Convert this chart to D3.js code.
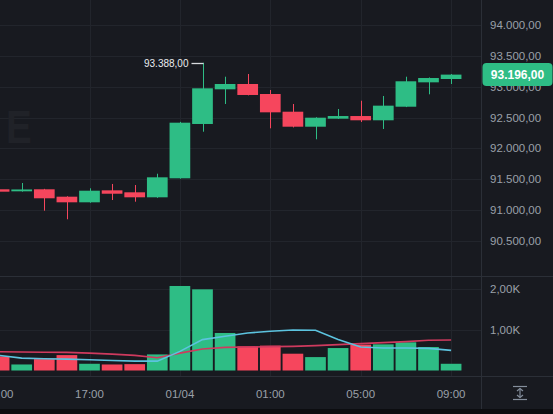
<!DOCTYPE html>
<html><head><meta charset="utf-8">
<script src="https://cdn.jsdelivr.net/npm/d3@7/dist/d3.min.js"></script>
<style>html,body{margin:0;padding:0;background:#181a20;overflow:hidden}</style>
</head><body><svg id="c" width="553" height="414"></svg>
<script>
// ---- data ----
const times = ["13:00","14:00","15:00","16:00","17:00","18:00","19:00","20:00","21:00","22:00","23:00",
               "00:00","01:00","02:00","03:00","04:00","05:00","06:00","07:00","08:00","09:00"];
const open  = [91338,91305,91338,91218,91127,91321,91289,91208,91516,92396,92958,93044,92882,92595,92352,92482,92525,92456,92676,93071,93125];
const high  = [91345,91440,91345,91225,91354,91424,91407,91590,92430,93388,93162,93206,92947,92720,92505,92639,92773,92850,93162,93150,93205];
const low   = [91295,91300,90991,90852,91120,91164,91137,91200,91510,92271,92720,92860,92326,92340,92148,92478,92428,92315,92670,92877,93044];
const close = [91299,91335,91192,91127,91315,91266,91208,91532,92417,92974,93044,92866,92585,92352,92498,92525,92456,92693,93088,93141,93196];
const volume = [346,148,279,378,165,148,156,395,2074,1992,921,593,610,412,329,551,634,642,691,576,165];
const volMaFast = [370,304,289,279,264,247,230,230,469,758,840,921,963,995,988,758,575,551,551,543,494];
const volMaSlow = [462,454,449,444,427,402,370,314,427,526,568,575,585,593,610,635,659,684,709,741,748];
const priceTicks = [90500,91000,91500,92000,92500,93000,93500,94000];
const volTicks = [1000,2000];
const tickTimes  = ["13:00","17:00","21:00","01:00","05:00","09:00"];
const tickLabels = ["13:00","17:00","01/04","01:00","05:00","09:00"];
const lastPrice = 93196;
const maxPrice = 93388;
const watermark = "E";

// ---- styles ----
const BG = "#181a20", GRID = "#22252c", SEP = "#2b2f37", TXT = "#9aa0a9";
const UP = "#2ebd85", DOWN = "#f6465d";
const FAST = "#5cc3df", SLOW = "#cf3a5e";
const FONT = "'Liberation Sans', Arial, sans-serif";

const svg = d3.select("#c");
const W = 553, H = 414, plotR = 481.5;
const loc = d3.formatLocale({decimal:",", thousands:".", grouping:[3], currency:["",""]});
const fmtP = loc.format(",.2f");
const fmtV = v => loc.format(".2f")(v/1000) + "K";

svg.append("rect").attr("width",W).attr("height",H).attr("fill",BG);
svg.append("rect").attr("x",0).attr("y",409).attr("width",W).attr("height",5).attr("fill","#0c0d10");

const x = d3.scaleBand().domain(times).range([-12.2, -12.2 + 22.6*times.length])
  .paddingInner(0.084).paddingOuter(0.042);
const cx = t => x(t) + x.bandwidth()/2;
const y = d3.scaleLinear().domain([90500, 94000]).range([241, 25]);
const yv = d3.scaleLinear().domain([0, 2000]).range([370.5, 289]);

svg.append("clipPath").attr("id","clip").append("rect").attr("x",0).attr("y",0).attr("width",plotR).attr("height",409);
const g = svg.append("g").attr("clip-path","url(#clip)");

// grid
g.selectAll(".hg").data(priceTicks).join("line")
  .attr("x1",0).attr("x2",plotR).attr("y1",d=>Math.round(y(d))+0.5).attr("y2",d=>Math.round(y(d))+0.5)
  .attr("stroke",GRID).attr("stroke-width",1);
g.selectAll(".vhg").data(volTicks).join("line")
  .attr("x1",0).attr("x2",plotR).attr("y1",d=>Math.round(yv(d))+0.5).attr("y2",d=>Math.round(yv(d))+0.5)
  .attr("stroke",GRID).attr("stroke-width",1);
g.selectAll(".vg").data(tickTimes).join("line")
  .attr("x1",d=>Math.round(cx(d))+0.5).attr("x2",d=>Math.round(cx(d))+0.5).attr("y1",0).attr("y2",377)
  .attr("stroke",GRID).attr("stroke-width",1);

// watermark
g.append("text").attr("x",6).attr("y",143).attr("fill","#202228")
  .attr("font-family",FONT).attr("font-weight","bold").attr("font-size",47)
  .attr("transform","translate(6,0) scale(0.82,1) translate(-6,0)").text(watermark);

// candles
const idx = d3.range(times.length);
g.selectAll(".wick").data(idx).join("line")
  .attr("x1",i=>Math.round(cx(times[i]))+0.5).attr("x2",i=>Math.round(cx(times[i]))+0.5)
  .attr("y1",i=>y(high[i])).attr("y2",i=>y(low[i]))
  .attr("stroke",i=>close[i]>=open[i]?UP:DOWN).attr("stroke-width",1);
g.selectAll(".body").data(idx).join("rect")
  .attr("x",i=>x(times[i])).attr("width",x.bandwidth())
  .attr("y",i=>y(Math.max(open[i],close[i])))
  .attr("height",i=>Math.max(1.5, Math.abs(y(open[i])-y(close[i]))))
  .attr("fill",i=>close[i]>=open[i]?UP:DOWN);

// volume bars
g.selectAll(".vol").data(idx).join("rect")
  .attr("x",i=>x(times[i])).attr("width",x.bandwidth())
  .attr("y",i=>yv(volume[i])).attr("height",i=>yv(0)-yv(volume[i]))
  .attr("fill",i=>close[i]>=open[i]?UP:DOWN);

// volume MAs
const line = arr => d3.line().x((d,i)=>cx(times[i])).y(d=>yv(d)).curve(d3.curveLinear)(arr);
g.append("path").attr("d",line(volMaSlow)).attr("fill","none").attr("stroke",SLOW).attr("stroke-width",1.6);
g.append("path").attr("d",line(volMaFast)).attr("fill","none").attr("stroke",FAST).attr("stroke-width",1.6);

// max marker
const mi = high.indexOf(maxPrice);
const mx = Math.round(cx(times[mi]))+0.5, my = Math.round(y(maxPrice))+0.5;
g.append("line").attr("x1",mx-12).attr("x2",mx).attr("y1",my).attr("y2",my).attr("stroke","#d8dadf").attr("stroke-width",1.3);
g.append("text").attr("x",mx-15).attr("y",my).attr("dy","0.35em").attr("text-anchor","end")
  .attr("fill","#eaecef").attr("font-family",FONT).attr("font-size",10).text(fmtP(maxPrice));

// separators
svg.append("line").attr("x1",0).attr("x2",W).attr("y1",276.5).attr("y2",276.5).attr("stroke",SEP);
svg.append("line").attr("x1",0).attr("x2",W).attr("y1",376.5).attr("y2",376.5).attr("stroke",SEP);
svg.append("line").attr("x1",plotR).attr("x2",plotR).attr("y1",0).attr("y2",409).attr("stroke",SEP);

// price axis
svg.selectAll(".pl").data(priceTicks).join("text")
  .attr("x",490).attr("y",d=>y(d)).attr("dy","0.35em")
  .attr("fill",TXT).attr("font-family",FONT).attr("font-size",11.5).text(d=>fmtP(d));
svg.selectAll(".vl").data(volTicks).join("text")
  .attr("x",490).attr("y",d=>yv(d)).attr("dy","0.35em")
  .attr("fill",TXT).attr("font-family",FONT).attr("font-size",11.5).text(d=>fmtV(d));

// time axis
const tg = svg.append("g").attr("clip-path","url(#clip)");
tg.selectAll(".tl").data(tickTimes).join("text")
  .attr("x",d=>cx(d)).attr("y",394).attr("dy","0.35em").attr("text-anchor","middle")
  .attr("fill",TXT).attr("font-family",FONT).attr("font-size",11.5)
  .text((d,i)=>tickLabels[i]);

// last price label
const ly = y(lastPrice);
svg.append("rect").attr("x",482.5).attr("y",ly-11.5).attr("width",70).attr("height",23).attr("rx",4).attr("fill",UP);
svg.append("text").attr("x",517.5).attr("y",ly).attr("dy","0.36em").attr("text-anchor","middle")
  .attr("fill","#ffffff").attr("font-family",FONT).attr("font-weight","bold").attr("font-size",12)
  .text(fmtP(lastPrice));

// scale icon
const ic = svg.append("g").attr("stroke","#848e9c").attr("stroke-width",1.2).attr("fill","none");
ic.append("line").attr("x1",513).attr("x2",527).attr("y1",386.5).attr("y2",386.5);
ic.append("line").attr("x1",513).attr("x2",527).attr("y1",399.5).attr("y2",399.5);
ic.append("line").attr("x1",520).attr("x2",520).attr("y1",388.5).attr("y2",397.5);
ic.append("path").attr("d","M517,391 L520,388.5 L523,391 M517,395 L520,397.5 L523,395");
</script></body></html>
